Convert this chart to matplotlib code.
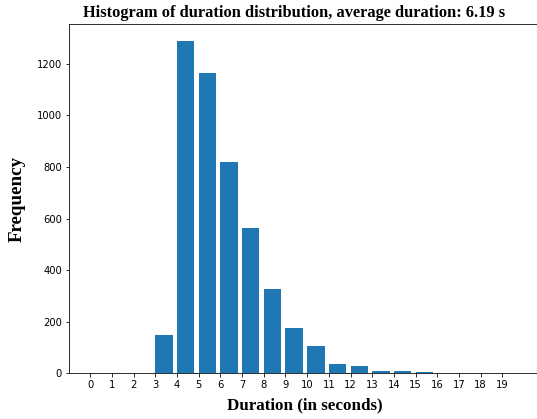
import matplotlib.pyplot as plt

# duration bins (seconds) and counts
durations = list(range(20))
counts = [0, 0, 0, 149, 1290, 1164, 821, 565, 326, 175,
          106, 37, 28, 10, 9, 4, 0, 0, 0, 0]
avg_duration = 6.19

fig = plt.figure(figsize=(537 / 72, 419 / 72), dpi=72)
ax = fig.add_axes([69 / 537, 45.7 / 419, 472 / 537, 349.3 / 419])

ax.bar(durations, counts, width=0.8, align='edge', color='#1f77b4')
ax.set_xticks(durations)
ax.set_xlim(-0.99, 20.79)
ax.tick_params(labelsize=10)

serif = ['Liberation Serif', 'DejaVu Serif']
ax.set_title(f"Histogram of duration distribution, average duration: {avg_duration} s",
             fontsize=16.4, fontweight='bold', family=serif, pad=7, x=0.477)
ax.set_xlabel("Duration (in seconds)", fontsize=17, fontweight='bold', family=serif, labelpad=7)
ax.set_ylabel("Frequency", fontsize=19, fontweight='bold', family=serif, labelpad=11)

fig.savefig("out.png", dpi=72)
